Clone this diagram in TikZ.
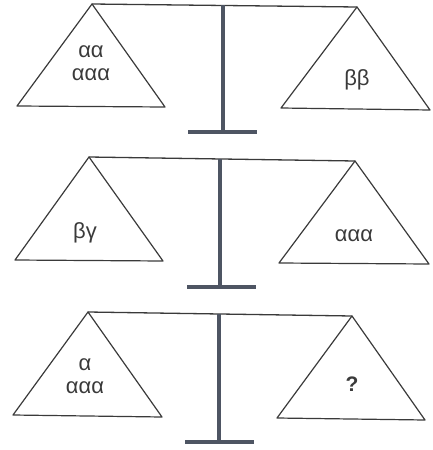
\documentclass[tikz,border=0pt]{standalone}
\usepackage{fontspec}
\setmainfont{Liberation Sans}
\definecolor{panline}{HTML}{3A3A3A}
\definecolor{postgray}{HTML}{4E5563}
\newcommand{\Pan}[1]{%
  \path[draw=panline, line width=1.2pt] #1 -- cycle;
}

\begin{document}
\begin{tikzpicture}[
    x=1pt,y=-1pt,
    line cap=round,
    line join=round,
    beam/.style={draw=panline, line width=1.3pt},
    post/.style={draw=postgray, line width=3.2pt, line cap=butt},
    foot/.style={draw=postgray, line width=3.6pt, line cap=butt},
    weight/.style={font=\fontsize{22}{23}\selectfont, text=panline, align=center, inner sep=0pt},
    query/.style={font=\bfseries\fontsize{21}{22}\selectfont, text=panline, inner sep=0pt}
]

\useasboundingbox (0,0) rectangle (432,450);

% top scale
\begin{scope}
    \coordinate (L) at (92,4);
    \coordinate (R) at (357,7);
    \coordinate (T) at (223,5);
    \coordinate (B) at (223,132);

    \Pan{(L)--(17,106)--(165,107)}
    \Pan{(R)--(281,108)--(430,110)}

    \draw[beam] (L)--(R);
    \draw[post] (T)--(B);
    \draw[foot] (188,132)--(257,132);

    \node[weight] (w1l) at (91,63) {αα\\ααα};
    \node[weight] (w1r) at (357,80) {ββ};
\end{scope}

% middle scale
\begin{scope}
    \coordinate (L) at (89,157);
    \coordinate (R) at (355,161);
    \coordinate (T) at (220,159);
    \coordinate (B) at (220,287);

    \Pan{(L)--(15,260)--(163,261)}
    \Pan{(R)--(279,263)--(429,264)}

    \draw[beam] (L)--(R);
    \draw[post] (T)--(B);
    \draw[foot] (187,287)--(256,287);

    \node[weight] (w2l) at (85,233) {βγ};
    \node[weight] (w2r) at (354,236) {ααα};
\end{scope}

% bottom scale
\begin{scope}
    \coordinate (L) at (88,312);
    \coordinate (R) at (352,316);
    \coordinate (T) at (219,314);
    \coordinate (B) at (219,442);

    \Pan{(L)--(13,415)--(162,417)}
    \Pan{(R)--(277,418)--(425,420)}

    \draw[beam] (L)--(R);
    \draw[post] (T)--(B);
    \draw[foot] (185,442)--(254,442);

    \node[weight] (w3l) at (85,376) {α\\ααα};
    \node[query] (w3r) at (352,384) {?};
\end{scope}
\end{tikzpicture}
\end{document}
